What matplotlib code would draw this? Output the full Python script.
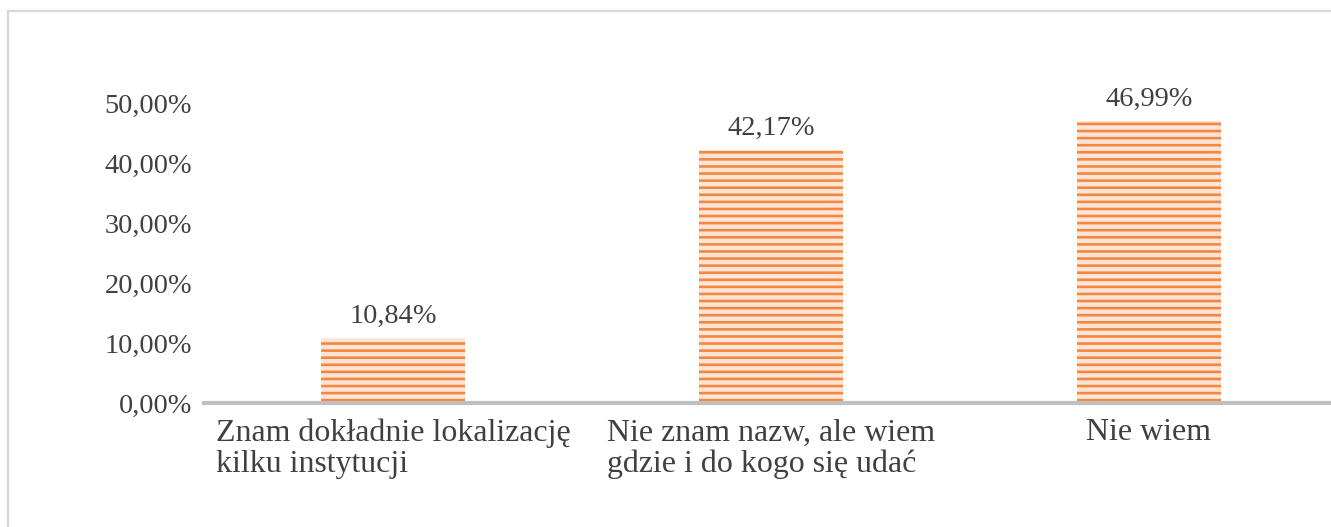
import matplotlib.pyplot as plt
from matplotlib.lines import Line2D

# data
categories = ["Znam dokładnie lokalizację\nkilku instytucji",
              "Nie znam nazw, ale wiem\ngdzie i do kogo się udać",
              "Nie wiem"]
values = [10.84, 42.17, 46.99]
yticks = [0, 10, 20, 30, 40, 50]

plt.rcParams['font.family'] = ['Liberation Serif', 'DejaVu Serif']
plt.rcParams['hatch.linewidth'] = 2.2

W, H, DPI = 1331, 527, 85
fig = plt.figure(figsize=(W / DPI, H / DPI), dpi=DPI)

# light grey frame around the chart
fig.add_artist(Line2D([8 / W, 8 / W], [0, 1 - 11 / H], color='#D9D9D9', lw=2))
fig.add_artist(Line2D([8 / W, 1], [1 - 11 / H, 1 - 11 / H], color='#D9D9D9', lw=2))

ax = fig.add_axes([204 / W, (H - 403) / H, 1134 / W, 300 / H])

x = range(len(categories))
ax.bar(x, values, width=0.38, color='#FCE4D6', edgecolor='#F4873D',
       linewidth=0, hatch='--')

for i, v in enumerate(values):
    ax.text(i, v + 1.5, f"{v:.2f}%".replace('.', ','), ha='center', va='bottom',
            fontsize=24, color='#404040', clip_on=False)

ax.set_xlim(-0.5, 2.5)
ax.set_ylim(0, 50)
ax.set_yticks(yticks)
ax.set_yticklabels([f"{t:.2f}%".replace('.', ',') for t in yticks])
ax.set_xticks(list(x))
ax.set_xticklabels(categories, multialignment='left', linespacing=1.1, fontsize=27)
ax.tick_params(axis='both', length=0, labelcolor='#404040')
ax.tick_params(axis='y', pad=10, labelsize=24)
ax.tick_params(axis='x', pad=13)

for s in ['top', 'right', 'left']:
    ax.spines[s].set_visible(False)
ax.spines['bottom'].set_color('#BFBFBF')
ax.spines['bottom'].set_linewidth(3.5)
ax.set_facecolor('none')

plt.savefig("out.png", dpi=DPI)
